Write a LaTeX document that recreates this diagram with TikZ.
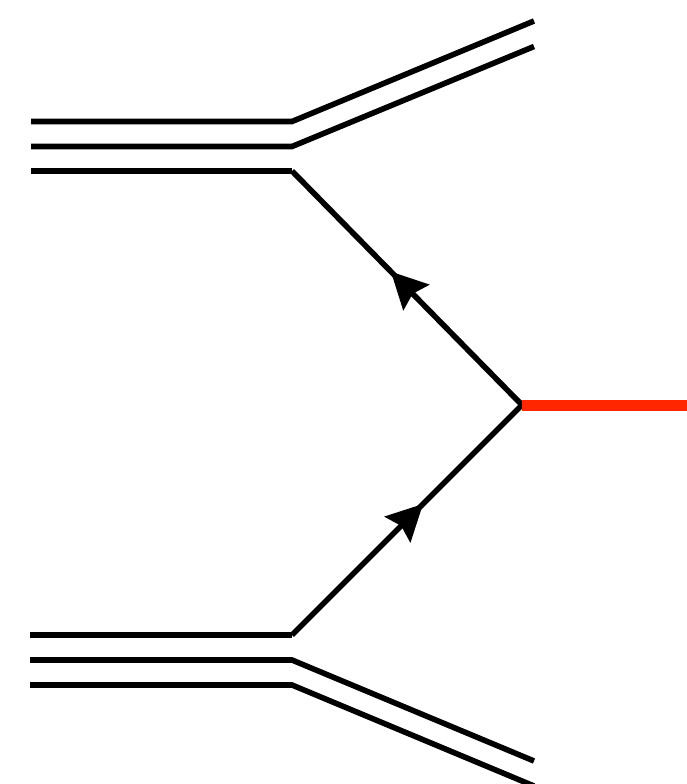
\documentclass[tikz,border=0pt]{standalone}
\usetikzlibrary{arrows.meta,decorations.markings}
\definecolor{hred}{RGB}{255,38,0}
\tikzset{
  dline/.style={line width=5.6pt, line join=miter},
  fermion/.style={line width=5.6pt, postaction={decorate}, decoration={markings,
     mark=at position 0.57 with {\arrow{Stealth[length=36pt,width=36pt,inset=5pt]}}}},
  boson/.style={line width=11pt, draw=hred}
}
\begin{document}
\begin{tikzpicture}[x=1pt,y=-1pt]
\useasboundingbox (0,0) rectangle (687,784);
% upper external lines
\coordinate (ua1) at (31,121.5); \coordinate (ub1) at (292,121.5); \coordinate (uc1) at (534,21);
\coordinate (ua2) at (31,146.5); \coordinate (ub2) at (292,146.5); \coordinate (uc2) at (534,46.5);
\coordinate (ua3) at (31,171);   \coordinate (ub3) at (292,171);
% lower external lines
\coordinate (la1) at (30,635); \coordinate (lb1) at (292,635);
\coordinate (la2) at (30,660); \coordinate (lb2) at (292,660); \coordinate (lc2) at (534,761);
\coordinate (la3) at (30,685); \coordinate (lb3) at (292,685); \coordinate (lc3) at (534,786);
% vertex and boson end
\coordinate (v) at (522,405);
\coordinate (r) at (690,405);

\draw[dline] (ua1) -- (ub1) -- (uc1);
\draw[dline] (ua2) -- (ub2) -- (uc2);
\draw[dline] (ua3) -- (ub3);
\draw[dline] (la1) -- (lb1);
\draw[dline] (la2) -- (lb2) -- (lc2);
\draw[dline] (la3) -- (lb3) -- (lc3);

\draw[fermion] (v) -- (ub3);
\draw[fermion] (lb1) -- (v);
\draw[boson] (v) -- (r);
\end{tikzpicture}
\end{document}
